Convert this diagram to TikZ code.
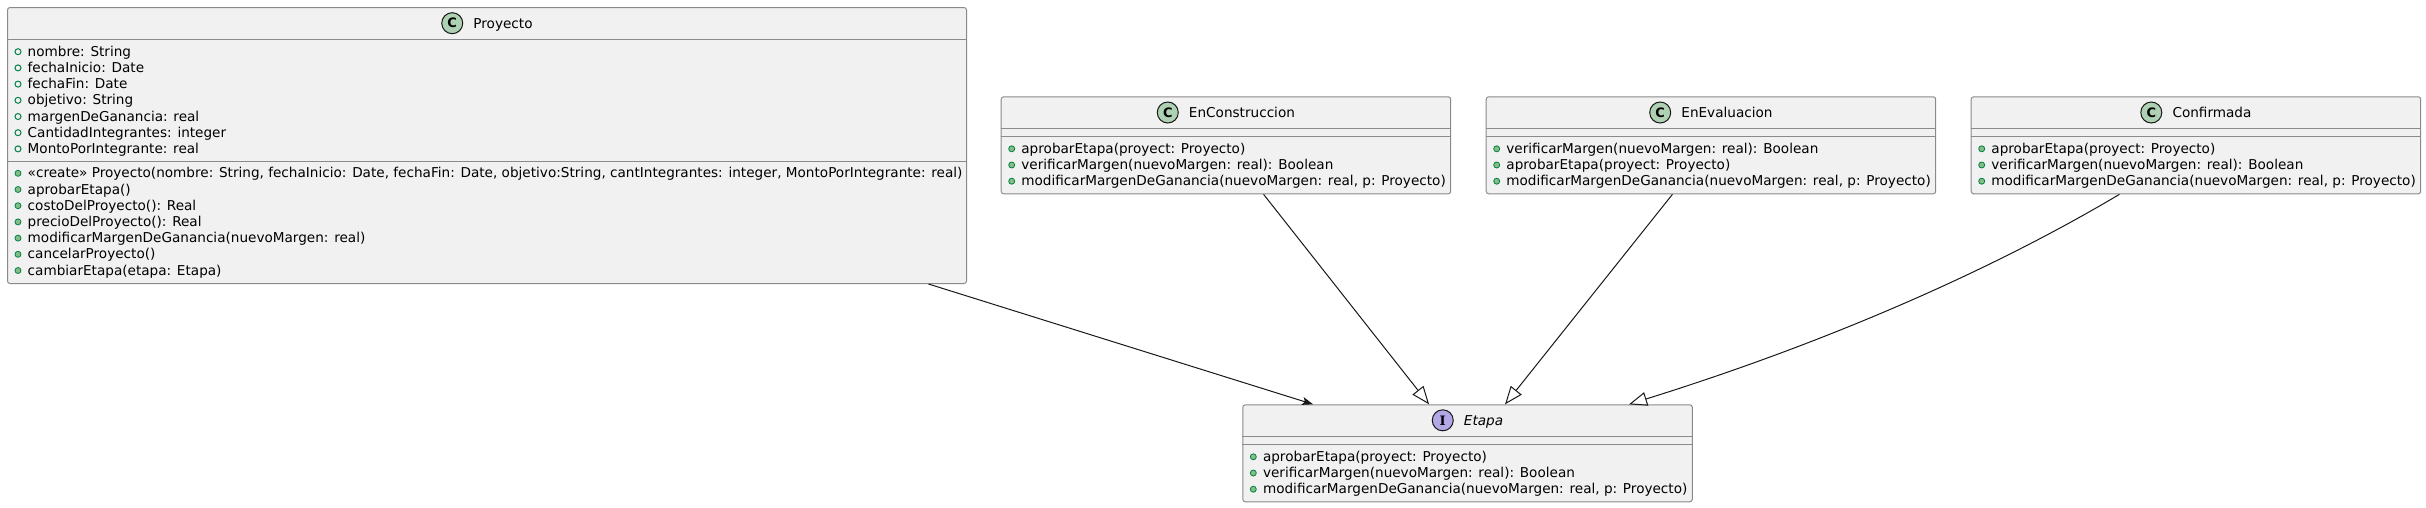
\documentclass[tikz,border=0pt]{standalone}
\usepackage{fontspec}
\setmainfont{DejaVu Sans}
\newfontfamily\spotserif{DejaVu Serif}
\usetikzlibrary{positioning,arrows.meta}
\definecolor{boxfill}{HTML}{F1F1F1}
\definecolor{boxline}{HTML}{8A8A8A}
\definecolor{linkline}{HTML}{181818}
\definecolor{classspot}{HTML}{ADD1B2}
\definecolor{ifacespot}{HTML}{B4A7E5}
\definecolor{visline}{HTML}{038048}
\definecolor{visfill}{HTML}{84BE84}
\tikzstyle{classbox}=[draw=boxline,fill=boxfill,line width=1pt,rounded corners=2.5pt,anchor=north west,inner sep=0pt,minimum width=449.5pt,minimum height=97pt]
\tikzstyle{sepline}=[draw=boxline,line width=1pt]
\tikzstyle{title}=[inner sep=0pt,text height=9.9pt,text depth=0pt,font=\fontsize{13.6}{16}\selectfont]
\tikzstyle{spot}=[circle,draw=linkline,line width=1pt,minimum size=21pt,inner sep=0pt,font=\fontsize{13}{13}\selectfont\bfseries]
\tikzstyle{member}=[inner sep=0pt,anchor=base west,font=\fontsize{13.6}{16}\selectfont]
\tikzstyle{field}=[draw=visline,line width=1pt]
\tikzstyle{method}=[draw=visline,fill=visfill,line width=0.8pt]
\tikzstyle{realize}=[draw=linkline,line width=1pt,-{Triangle[open,length=18pt,width=14pt]}]
\tikzstyle{assoc}=[draw=linkline,line width=1pt,-{Stealth[length=11pt,width=8pt,inset=2.5pt]}]

\begin{document}
\begin{tikzpicture}[x=1pt,y=-1pt]
    \useasboundingbox (0,0) rectangle (2426,507);
    % First we draw the class boxes
    \node[classbox,minimum width=959pt,minimum height=276pt] (Proyecto) at (7,7) {};
    \foreach \pos/ \name in {{(1000.7,96.3)/EnConstruccion},{(1485.7,96.3)/EnEvaluacion},{(1970.7,96.3)/Confirmada},{(1242.3,404.3)/Etapa}}
        \node[classbox] (\name) at \pos {};

    % Compartment lines
    \foreach \name/ \sepa/ \sepb in {Proyecto/32.3/154, EnConstruccion/32.3/40.3, EnEvaluacion/32.3/40.3, Confirmada/32.3/40.3, Etapa/32/40}
    {
        \draw[sepline] ([yshift={-\sepa*1pt}]\name.north west) -- ([yshift={-\sepa*1pt}]\name.north east);
        \draw[sepline] ([yshift={-\sepb*1pt}]\name.north west) -- ([yshift={-\sepb*1pt}]\name.north east);
    }

    % Class names with their spots
    \foreach \name in {Proyecto, EnConstruccion, EnEvaluacion, Confirmada}
    {
        \node[title] (\name-title) at ([xshift=16pt,yshift=-16.2pt]\name.north) {\name};
        \node[spot,fill=classspot,left=10pt of \name-title] (\name-spot) {C};
    }
    \node[title] (Etapa-title) at ([xshift=16pt,yshift=-16pt]Etapa.north) {\itshape Etapa};
    \node[spot,fill=ifacespot,left=10pt of Etapa-title] (Etapa-spot) {\spotserif I};

    % Proyecto attributes and methods
    \foreach \row/ \txt in {0/{nombre: String}, 1/{fechaInicio: Date}, 2/{fechaFin: Date}, 3/{objetivo: String}, 4/{margenDeGanancia: real}, 5/{CantidadIntegrantes: integer}, 6/{MontoPorIntegrante: real}}
    {
        \draw[field] (18, {51.7+16.2*\row}) circle[radius=3pt];
        \node[member] at (27.5, {56.2+16.2*\row}) {\txt};
    }
    \foreach \row/ \txt in {0/{«create» Proyecto(nombre: String, fechaInicio: Date, fechaFin: Date, objetivo:String, cantIntegrantes: integer, MontoPorIntegrante: real)}, 1/{aprobarEtapa()}, 2/{costoDelProyecto(): Real}, 3/{precioDelProyecto(): Real}, 4/{modificarMargenDeGanancia(nuevoMargen: real)}, 5/{cancelarProyecto()}, 6/{cambiarEtapa(etapa: Etapa)}}
    {
        \draw[method] (18, {173.3+16.2*\row}) circle[radius=3pt];
        \node[member] at (27.5, {177.8+16.2*\row}) {\txt};
    }

    % Methods of the stages
    \foreach \name in {EnConstruccion, Confirmada, Etapa}
        \foreach \row/ \txt in {0/{aprobarEtapa(proyect: Proyecto)}, 1/{verificarMargen(nuevoMargen: real): Boolean}, 2/{modificarMargenDeGanancia(nuevoMargen: real, p: Proyecto)}}
        {
            \draw[method] ([xshift=11pt,yshift={-(52.5+16.2*\row)*1pt}]\name.north west) circle[radius=3pt];
            \node[member] at ([xshift=20.5pt,yshift={-(57+16.2*\row)*1pt}]\name.north west) {\txt};
        }
    \foreach \row/ \txt in {0/{verificarMargen(nuevoMargen: real): Boolean}, 1/{aprobarEtapa(proyect: Proyecto)}, 2/{modificarMargenDeGanancia(nuevoMargen: real, p: Proyecto)}}
    {
        \draw[method] ([xshift=11pt,yshift={-(52.5+16.2*\row)*1pt}]EnEvaluacion.north west) circle[radius=3pt];
        \node[member] at ([xshift=20.5pt,yshift={-(57+16.2*\row)*1pt}]EnEvaluacion.north west) {\txt};
    }

    % Connect classes with arrows
    \draw[assoc] ([xshift=441.5pt]Proyecto.south) -- ([xshift=-154.5pt]Etapa.north);
    \foreach \source/ \sx/ \tx in {EnConstruccion/37.6/-38.5, EnEvaluacion/-38.5/37.5}
        \draw[realize] ([xshift={\sx*1pt}]\source.south) -- ([xshift={\tx*1pt}]Etapa.north);
    \draw[realize] ([xshift=-76.5pt]Confirmada.south) .. controls +(-109,65) and +(221,-69) .. ([xshift=161.5pt]Etapa.north);
\end{tikzpicture}
\end{document}
